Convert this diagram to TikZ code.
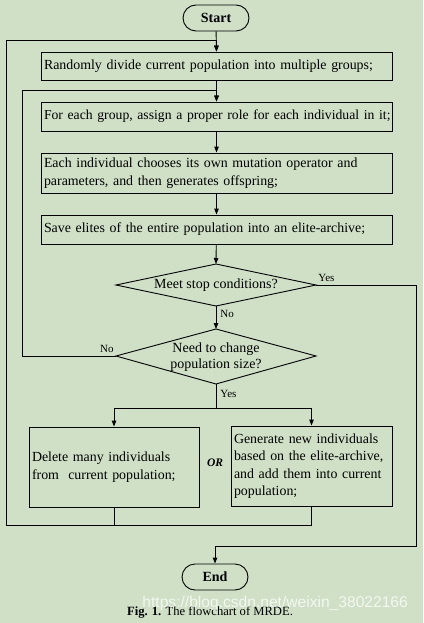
\documentclass[tikz,border=0pt]{standalone}
\usepackage{fontspec}
\setmainfont{Liberation Serif}
\newfontfamily\wmfont{Liberation Sans}
\usetikzlibrary{arrows.meta,calc}
\definecolor{bgc}{RGB}{207,224,198}
\begin{document}
\begin{tikzpicture}[x=1pt,y=-1pt,
  line width=0.9pt,
  arr/.style={-{Triangle[length=6pt,width=4.5pt]}},
  procbox/.style={draw,rectangle,inner sep=3pt,align=left,font=\fontsize{13.9}{17.5}\selectfont},
  term/.style={draw,rectangle,rounded corners=13pt,minimum width=66pt,minimum height=26pt,font=\fontsize{14}{15}\selectfont\bfseries},
  lbl/.style={font=\fontsize{11}{12}\selectfont,inner sep=1pt},
  dtext/.style={font=\fontsize{14}{16.5}\selectfont,align=center,inner sep=0pt}
]
\fill[bgc] (0,0) rectangle (423,623);
\useasboundingbox (0,0) rectangle (423,623);

\node[term] (start) at (216,18) {Start};
\node[procbox,minimum width=351pt,minimum height=28pt,text width=345pt] (b1) at (216.5,66) {Randomly divide current population into multiple groups;};
\node[procbox,minimum width=351pt,minimum height=29pt,text width=345pt] (b2) at (216.5,116.5) {\fontsize{13.7}{17.5}\selectfont\mbox{For each group, assign a proper role for each individual in it;}};
\node[procbox,minimum width=351pt,minimum height=40pt,text width=345pt] (b3) at (216.5,173) {Each individual chooses its own mutation operator and\\parameters, and then generates offspring;};
\node[procbox,minimum width=351pt,minimum height=29pt,text width=345pt] (b4) at (216.5,229.5) {Save elites of the entire population into an elite-archive;};

% diamond 1
\coordinate (d1t) at (216,264);
\coordinate (d1r) at (316,285);
\coordinate (d1b) at (216,306);
\coordinate (d1l) at (116,285);
\draw (d1t) -- (d1r) -- (d1b) -- (d1l) -- cycle;
\node[dtext] (d1) at (216,285) {Meet stop conditions?};

% diamond 2
\coordinate (d2t) at (216,329);
\coordinate (d2r) at (316,356);
\coordinate (d2b) at (216,384);
\coordinate (d2l) at (116,356);
\draw (d2t) -- (d2r) -- (d2b) -- (d2l) -- cycle;
\node[dtext] (d2) at (216,357) {Need to change\\population size?};

\node[procbox,minimum width=170pt,minimum height=80pt,text width=164pt] (b5) at (114,467) {Delete many individuals\\from\ \ current population;};
\node[procbox,minimum width=161pt,minimum height=80pt,text width=155pt] (b6) at (311.5,466) {Generate new individuals\\based on the elite-archive,\\and add them into current\\population;};
\node[font=\fontsize{11.5}{12}\selectfont\bfseries\itshape] (or) at (215,463) {OR};

\node[term] (end) at (215,577) {End};

\coordinate (c1) at (6,40);
\coordinate (c2) at (22,90);
\coordinate (cl) at (6,525);
\coordinate (cy) at (416,546);
\coordinate (split) at (216,408);

\draw[arr] (start) -- (b1);
\draw[arr] (b1) -- (b2);
\draw[arr] (b2) -- (b3);
\draw[arr] (b3) -- (b4);
\draw[arr] (b4) -- (d1t);
\draw[arr] (d1b) -- (d2t);
\draw[arr] (d1r) -| (cy) -| (end.north);
\draw[arr] (d2l) -| (c2) -| (b2.north);
\draw (d2b) -- (split);
\draw[arr] (split) -| (b5.north);
\draw[arr] (split) -| (b6.north);
\draw (b5.south) -- (b5.south |- cl);
\draw[arr] (b6.south) |- (cl) -- (c1) -| (b1.north);

\node[lbl,anchor=south west] at (317,283) {Yes};
\node[lbl,anchor=west] at (219,314) {No};
\node[lbl,anchor=south east] at (115,354) {No};
\node[lbl,anchor=west] at (219,394) {Yes};

\node[font=\fontsize{12.6}{14}\selectfont] (cap) at (210,612) {\textbf{Fig. 1.} The flowchart of MRDE.};
\node[font=\wmfont\fontsize{15.6}{17}\selectfont,text=white,opacity=0.75,anchor=west,inner sep=0pt] (wm) at (142,603) {https://blog.csdn.net/weixin\_38022166};
\end{tikzpicture}
\end{document}
